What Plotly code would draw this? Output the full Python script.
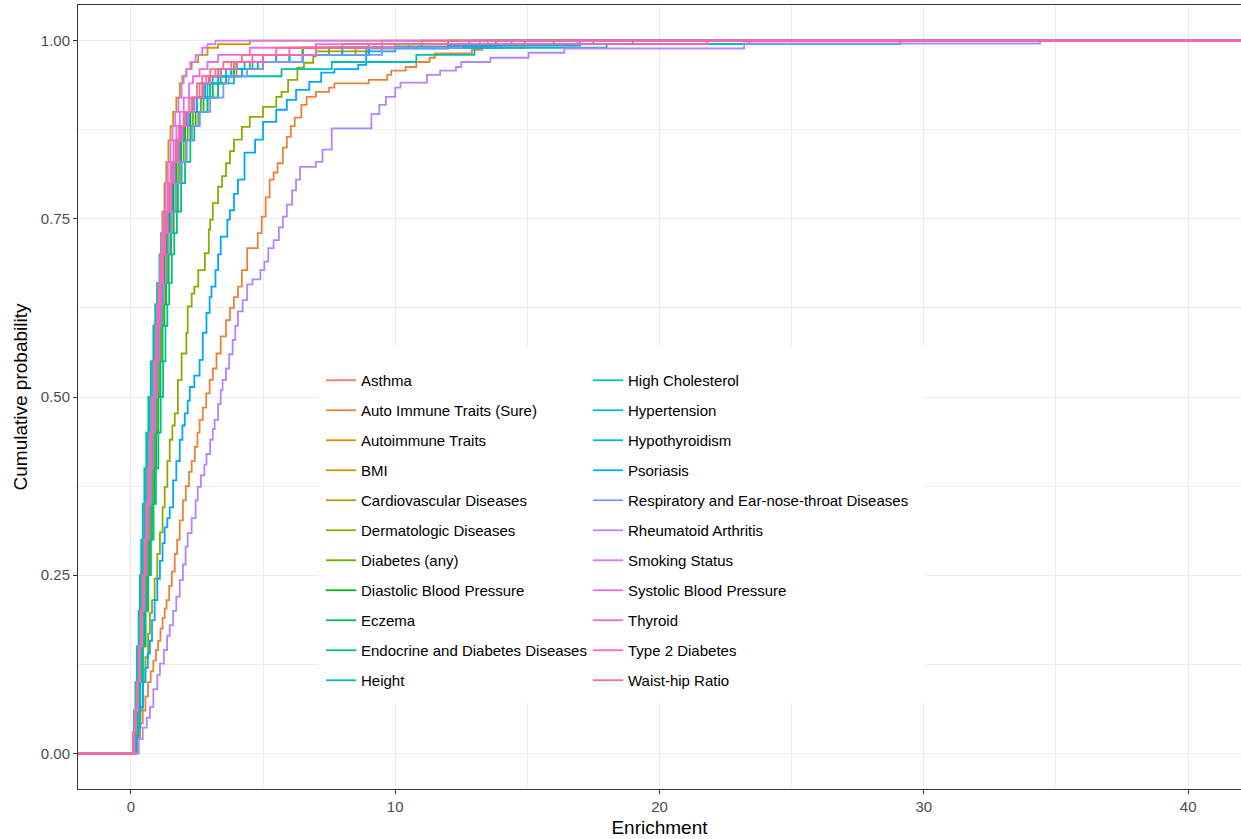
import math
import plotly.graph_objects as go

# ---------------- data ----------------
SERIES = [
    "Asthma", "Auto Immune Traits (Sure)", "Autoimmune Traits", "BMI",
    "Cardiovascular Diseases", "Dermatologic Diseases", "Diabetes (any)",
    "Diastolic Blood Pressure", "Eczema", "Endocrine and Diabetes Diseases",
    "Height", "High Cholesterol", "Hypertension", "Hypothyroidism", "Psoriasis",
    "Respiratory and Ear-nose-throat Diseases", "Rheumatoid Arthritis",
    "Smoking Status", "Systolic Blood Pressure", "Thyroid", "Type 2 Diabetes",
    "Waist-hip Ratio",
]

# cumulative-probability levels shared by the tightly clustered series
PROB = [0.0, 0.03, 0.06, 0.1, 0.15, 0.2, 0.25, 0.3, 0.35, 0.4, 0.45, 0.5, 0.55, 0.6,
        0.63, 0.66, 0.7, 0.73, 0.76, 0.8, 0.83, 0.86, 0.88, 0.9, 0.92, 0.94, 0.95,
        0.96, 0.97, 0.98, 0.99, 0.995, 1.0]

# enrichment reached at each PROB level (clustered series)
asthma_x = [0.07, 0.13, 0.18, 0.25, 0.33, 0.41, 0.49, 0.57, 0.64, 0.72, 0.8, 0.88, 0.96, 1.04, 1.1, 1.17,
            1.26, 1.34, 1.43, 1.58, 1.72, 1.9, 2.05, 2.25, 2.5, 2.8, 3.0, 3.4, 4.0, 5.0, 6.5, 8.0, 9.5]
autoimmune_x = [0.1, 0.17, 0.24, 0.32, 0.41, 0.5, 0.59, 0.67, 0.75, 0.83, 0.91, 0.99, 1.07, 1.15, 1.22,
                1.3, 1.4, 1.5, 1.6, 1.75, 1.9, 2.1, 2.3, 2.55, 2.9, 3.3, 3.6, 4.0, 5.0, 6.5, 8.5, 10.5, 13.5]
bmi_x = [0.12, 0.22, 0.28, 0.35, 0.42, 0.49, 0.55, 0.61, 0.67, 0.73, 0.79, 0.85, 0.91, 0.97, 1.01, 1.05,
         1.1, 1.14, 1.19, 1.27, 1.34, 1.42, 1.5, 1.6, 1.72, 1.85, 1.95, 2.1, 2.3, 2.55, 2.9, 3.3, 4.5]
cardio_x = [0.06, 0.12, 0.17, 0.24, 0.32, 0.4, 0.48, 0.56, 0.64, 0.72, 0.8, 0.88, 0.96, 1.04, 1.1, 1.16,
            1.24, 1.32, 1.41, 1.55, 1.67, 1.82, 1.95, 2.12, 2.35, 2.7, 2.95, 3.3, 3.9, 5.0, 7.0, 9.5, 13.8]
diabetes_x = [0.08, 0.14, 0.2, 0.28, 0.37, 0.46, 0.55, 0.63, 0.71, 0.79, 0.87, 0.95, 1.03, 1.11, 1.17,
              1.24, 1.33, 1.42, 1.52, 1.68, 1.82, 2.0, 2.15, 2.35, 2.65, 3.0, 3.3, 3.8, 4.5, 5.5, 7.5,
              10.0, 23.4]
diastolic_x = [0.07, 0.13, 0.19, 0.27, 0.35, 0.43, 0.51, 0.59, 0.67, 0.75, 0.83, 0.91, 0.99, 1.07, 1.13,
               1.2, 1.29, 1.37, 1.46, 1.6, 1.73, 1.9, 2.05, 2.25, 2.5, 2.8, 3.0, 3.4, 4.0, 5.0, 6.5, 9.0,
               12.0]
eczema_x = [0.09, 0.16, 0.23, 0.32, 0.42, 0.52, 0.62, 0.71, 0.8, 0.88, 0.96, 1.04, 1.12, 1.2, 1.27, 1.34,
            1.43, 1.52, 1.62, 1.78, 1.92, 2.1, 2.25, 2.45, 2.75, 3.1, 3.4, 3.9, 4.8, 6.0, 8.0, 12.0, 16.0]
endocrine_x = [0.1, 0.18, 0.26, 0.36, 0.46, 0.56, 0.66, 0.76, 0.86, 0.95, 1.04, 1.13, 1.22, 1.31, 1.38,
               1.45, 1.55, 1.64, 1.74, 1.9, 2.05, 2.25, 2.4, 2.6, 2.9, 3.3, 3.6, 4.2, 5.0, 6.5, 9.0, 13.8,
               19.0]
height_x = [0.03, 0.08, 0.12, 0.17, 0.23, 0.29, 0.34, 0.39, 0.45, 0.51, 0.58, 0.66, 0.75, 0.85, 0.92, 0.99,
            1.08, 1.16, 1.25, 1.4, 1.55, 1.75, 1.9, 2.1, 2.5, 3.0, 3.9, 5.7, 7.6, 10.8, 13.0, 18.0, 29.1]
cholesterol_x = [0.04, 0.09, 0.13, 0.19, 0.25, 0.31, 0.37, 0.43, 0.5, 0.57, 0.64, 0.72, 0.8, 0.88, 0.95,
                 1.02, 1.1, 1.18, 1.27, 1.42, 1.56, 1.72, 1.85, 2.0, 2.3, 2.8, 3.3, 4.2, 5.0, 6.5, 9.0,
                 11.0, 12.8]
hypertension_x = [0.05, 0.1, 0.15, 0.21, 0.28, 0.35, 0.42, 0.49, 0.56, 0.63, 0.7, 0.78, 0.86, 0.95, 1.01,
                  1.08, 1.17, 1.26, 1.35, 1.5, 1.62, 1.78, 1.92, 2.1, 2.4, 2.8, 3.1, 3.6, 4.3, 5.5, 8.0,
                  12.0, 17.5]
hypothyroid_x = [0.06, 0.11, 0.16, 0.23, 0.3, 0.37, 0.44, 0.51, 0.58, 0.66, 0.74, 0.82, 0.9, 0.99, 1.06,
                 1.13, 1.22, 1.3, 1.4, 1.55, 1.68, 1.85, 2.0, 2.2, 2.5, 2.9, 3.3, 3.8, 4.6, 6.0, 9.0, 14.0,
                 29.1]
respiratory_x = [0.08, 0.14, 0.2, 0.28, 0.36, 0.44, 0.52, 0.6, 0.68, 0.76, 0.84, 0.92, 1.0, 1.08, 1.15,
                 1.22, 1.32, 1.42, 1.53, 1.7, 1.88, 2.1, 2.3, 2.6, 3.0, 3.5, 3.7, 4.4, 5.0, 6.5, 9.5, 12.5,
                 13.2]
smoking_x = [0.05, 0.1, 0.15, 0.22, 0.3, 0.38, 0.46, 0.54, 0.61, 0.68, 0.75, 0.82, 0.89, 0.96, 1.0, 1.05,
             1.11, 1.17, 1.23, 1.32, 1.4, 1.5, 1.58, 1.68, 1.8, 1.92, 2.0, 2.1, 2.25, 2.45, 2.7, 2.9, 3.2]
systolic_x = [0.05, 0.1, 0.16, 0.23, 0.31, 0.39, 0.47, 0.55, 0.62, 0.69, 0.76, 0.83, 0.9, 0.97, 1.02,
              1.08, 1.15, 1.22, 1.3, 1.4, 1.5, 1.62, 1.72, 1.85, 2.0, 2.2, 2.35, 2.6, 2.9, 3.3, 4.5, 7.0,
              14.4]
thyroid_x = [0.06, 0.11, 0.17, 0.24, 0.32, 0.4, 0.48, 0.56, 0.63, 0.7, 0.78, 0.86, 0.94, 1.02, 1.08, 1.14,
             1.22, 1.3, 1.39, 1.52, 1.64, 1.8, 1.95, 2.15, 2.4, 2.75, 3.0, 3.4, 4.0, 5.0, 7.0, 10.0, 16.9]
t2d_x = [0.05, 0.1, 0.16, 0.23, 0.31, 0.39, 0.46, 0.54, 0.61, 0.68, 0.75, 0.83, 0.91, 0.99, 1.05, 1.11,
         1.19, 1.27, 1.36, 1.48, 1.6, 1.75, 1.88, 2.05, 2.3, 2.6, 2.85, 3.2, 3.8, 4.6, 6.0, 9.0, 21.8]
waisthip_x = [0.05, 0.1, 0.15, 0.22, 0.3, 0.37, 0.44, 0.51, 0.58, 0.65, 0.72, 0.8, 0.88, 0.96, 1.02, 1.08,
              1.16, 1.24, 1.32, 1.44, 1.55, 1.7, 1.82, 2.0, 2.2, 2.5, 2.7, 3.0, 3.5, 4.2, 5.5, 8.0, 11.0]

# series that separate from the cluster: own step points (enrichment, cumulative probability)
autosure_x = [0.12, 0.25, 0.34, 0.45, 0.55, 0.65, 0.75, 0.85, 0.95, 1.03, 1.12, 1.2, 1.28, 1.35, 1.45,
              1.55, 1.66, 1.75, 1.85, 1.97, 2.08, 2.2, 2.3, 2.42, 2.52, 2.6, 2.72, 2.85, 2.98, 3.1,
              3.24, 3.4, 3.6, 3.75, 3.9, 4.05, 4.2, 4.4, 4.8, 4.95, 5.1, 5.25, 5.4, 5.55, 5.75, 5.9,
              6.05, 6.2, 6.45, 6.65, 7.0, 7.5, 7.7, 9.0, 9.7, 9.85, 10.4, 10.8, 11.3, 11.5, 12.9,
              13.3, 14.9]
autosure_p = [0.0, 0.02, 0.042, 0.06, 0.08, 0.1, 0.115, 0.13, 0.145, 0.158, 0.175, 0.19, 0.203, 0.215,
              0.235, 0.255, 0.28, 0.3, 0.327, 0.355, 0.375, 0.395, 0.41, 0.43, 0.45, 0.468, 0.485,
              0.505, 0.524, 0.54, 0.561, 0.585, 0.608, 0.625, 0.64, 0.655, 0.678, 0.709, 0.73, 0.753,
              0.78, 0.805, 0.815, 0.828, 0.85, 0.865, 0.88, 0.892, 0.91, 0.921, 0.928, 0.934, 0.94,
              0.945, 0.952, 0.958, 0.963, 0.97, 0.976, 0.982, 0.987, 0.99, 1.0]
derm_x = [0.12, 0.27, 0.35, 0.45, 0.55, 0.65, 0.72, 0.8, 0.9, 1.0, 1.1, 1.2, 1.28, 1.38, 1.47, 1.57,
          1.66, 1.78, 1.92, 2.1, 2.15, 2.3, 2.4, 2.55, 2.8, 2.95, 3.0, 3.1, 3.3, 3.45, 3.6, 3.75, 3.9,
          4.2, 4.5, 5.0, 5.5, 5.7, 5.95, 6.3, 6.55, 6.9, 7.0, 8.9, 10.0, 13.8]
derm_p = [0.0, 0.025, 0.06, 0.1, 0.135, 0.168, 0.197, 0.215, 0.245, 0.28, 0.31, 0.345, 0.374, 0.41,
          0.44, 0.46, 0.477, 0.524, 0.561, 0.59, 0.627, 0.645, 0.655, 0.678, 0.702, 0.735, 0.749,
          0.772, 0.795, 0.81, 0.828, 0.845, 0.861, 0.879, 0.893, 0.907, 0.921, 0.928, 0.945, 0.962,
          0.969, 0.978, 0.985, 0.989, 0.992, 1.0]
psoriasis_x = [0.1, 0.2, 0.27, 0.36, 0.46, 0.55, 0.64, 0.72, 0.8, 0.9, 1.0, 1.1, 1.2, 1.28, 1.38, 1.47,
               1.6, 1.72, 1.85, 1.95, 2.04, 2.15, 2.23, 2.4, 2.6, 2.72, 2.86, 2.98, 3.05, 3.2, 3.3,
               3.4, 3.65, 3.75, 3.9, 4.05, 4.3, 4.7, 5.0, 5.5, 5.9, 6.25, 6.75, 7.2, 7.7, 8.6, 8.9,
               10.0, 12.0, 17.0]
psoriasis_p = [0.0, 0.02, 0.036, 0.065, 0.1, 0.12, 0.14, 0.158, 0.187, 0.215, 0.245, 0.27, 0.295,
               0.317, 0.33, 0.345, 0.383, 0.41, 0.44, 0.46, 0.477, 0.495, 0.514, 0.53, 0.552, 0.59,
               0.618, 0.64, 0.655, 0.678, 0.7, 0.725, 0.749, 0.762, 0.785, 0.805, 0.843, 0.861,
               0.886, 0.903, 0.917, 0.931, 0.942, 0.955, 0.96, 0.966, 0.985, 0.989, 0.993, 1.0]
ra_x = [0.15, 0.3, 0.45, 0.6, 0.72, 0.85, 1.0, 1.1, 1.25, 1.37, 1.47, 1.6, 1.72, 1.85, 1.97, 2.07,
        2.15, 2.3, 2.45, 2.53, 2.65, 2.78, 2.86, 3.0, 3.1, 3.17, 3.3, 3.4, 3.47, 3.6, 3.72, 3.85,
        3.95, 4.05, 4.23, 4.4, 4.6, 4.9, 5.05, 5.2, 5.4, 5.6, 5.75, 5.9, 6.1, 6.25, 6.4, 7.0, 7.25,
        7.6, 9.1, 9.4, 9.65, 10.0, 10.2, 11.2, 11.7, 12.3, 12.5, 13.6, 15.05, 16.4, 23.2, 34.4]
ra_p = [0.0, 0.02, 0.036, 0.05, 0.065, 0.09, 0.11, 0.126, 0.145, 0.165, 0.18, 0.2, 0.22, 0.243,
        0.265, 0.29, 0.309, 0.33, 0.355, 0.374, 0.39, 0.405, 0.42, 0.44, 0.455, 0.468, 0.49, 0.51,
        0.524, 0.54, 0.56, 0.58, 0.6, 0.62, 0.636, 0.658, 0.665, 0.678, 0.69, 0.709, 0.72, 0.738,
        0.753, 0.77, 0.79, 0.805, 0.823, 0.83, 0.847, 0.877, 0.897, 0.91, 0.921, 0.934, 0.941,
        0.952, 0.958, 0.963, 0.97, 0.976, 0.983, 0.989, 0.996, 1.0]

X_TICKS = [0, 10, 20, 30, 40]
Y_TICKS = [0.0, 0.25, 0.5, 0.75, 1.0]
Y_TICK_TEXT = ["0.00", "0.25", "0.50", "0.75", "1.00"]

series_data = {
    "Asthma": (asthma_x, PROB),
    "Auto Immune Traits (Sure)": (autosure_x, autosure_p),
    "Autoimmune Traits": (autoimmune_x, PROB),
    "BMI": (bmi_x, PROB),
    "Cardiovascular Diseases": (cardio_x, PROB),
    "Dermatologic Diseases": (derm_x, derm_p),
    "Diabetes (any)": (diabetes_x, PROB),
    "Diastolic Blood Pressure": (diastolic_x, PROB),
    "Eczema": (eczema_x, PROB),
    "Endocrine and Diabetes Diseases": (endocrine_x, PROB),
    "Height": (height_x, PROB),
    "High Cholesterol": (cholesterol_x, PROB),
    "Hypertension": (hypertension_x, PROB),
    "Hypothyroidism": (hypothyroid_x, PROB),
    "Psoriasis": (psoriasis_x, psoriasis_p),
    "Respiratory and Ear-nose-throat Diseases": (respiratory_x, PROB),
    "Rheumatoid Arthritis": (ra_x, ra_p),
    "Smoking Status": (smoking_x, PROB),
    "Systolic Blood Pressure": (systolic_x, PROB),
    "Thyroid": (thyroid_x, PROB),
    "Type 2 Diabetes": (t2d_x, PROB),
    "Waist-hip Ratio": (waisthip_x, PROB),
}


# ---------------- styling helpers ----------------
def hcl_hex(h, c=100.0, l=65.0):
    Xn, Yn, Zn = 95.047, 100.0, 108.883
    hr = math.radians(h)
    U, V = c * math.cos(hr), c * math.sin(hr)
    Y = Yn * ((l + 16) / 116) ** 3 if l > 8 else Yn * l / 903.3
    den = Xn + 15 * Yn + 3 * Zn
    un, vn = 4 * Xn / den, 9 * Yn / den
    up = U / (13 * l) + un
    vp = V / (13 * l) + vn
    X = 9.0 * Y * up / (4 * vp)
    Z = -X / 3 - 5 * Y + 3 * Y / vp
    X, Y, Z = X / 100, Y / 100, Z / 100
    r = 3.240479 * X - 1.537150 * Y - 0.498535 * Z
    g = -0.969256 * X + 1.875992 * Y + 0.041556 * Z
    b = 0.055648 * X - 0.204043 * Y + 1.057311 * Z

    def gam(v):
        v = 1.055 * v ** (1 / 2.4) - 0.055 if v > 0.00304 else 12.92 * v
        return int(round(max(0, min(1, v)) * 255))
    return "#%02X%02X%02X" % (gam(r), gam(g), gam(b))


n = len(SERIES)
COLORS = [hcl_hex(15 + i * 360.0 / n) for i in range(n)]

FONT = "Liberation Sans, Arial, Helvetica, sans-serif"
W, H = 1241, 839
ML, MR, MT, MB = 78, 0, 5, 50
PW, PH = W - ML - MR, H - MT - MB


def px_x(px):
    return (px - ML) / PW


def px_y(py):
    return (H - MB - py) / PH


fig = go.Figure()
for i, name in enumerate(SERIES):
    xs, ps = series_data[name]
    fig.add_trace(go.Scatter(
        x=[-5] + list(xs) + [50],
        y=[0] + list(ps) + [1],
        mode="lines",
        line=dict(color=COLORS[i], width=1.8, shape="hv"),
        name=name,
        legend="legend" if i < 11 else "legend2",
        legendgroup=name,
        showlegend=True,
    ))

axis_common = dict(
    showline=True, linecolor="#333333", linewidth=1, mirror=True,
    ticks="outside", ticklen=4, tickwidth=1, tickcolor="#333333",
    gridcolor="#EBEBEB", gridwidth=1.4, zeroline=False,
    tickfont=dict(family=FONT, size=15, color="#4D4D4D"),
)

fig.update_layout(
    width=W, height=H,
    margin=dict(l=ML, r=MR, t=MT, b=MB),
    paper_bgcolor="white", plot_bgcolor="white",
    font=dict(family=FONT, color="black"),
    xaxis=dict(range=[-2, 42], tickvals=X_TICKS, ticktext=[str(v) for v in X_TICKS],
               minor=dict(dtick=5, tick0=0, showgrid=True, gridcolor="#EBEBEB", gridwidth=0.8,
                          ticks=""),
               title=dict(text="Enrichment", font=dict(family=FONT, size=19), standoff=6),
               **axis_common),
    yaxis=dict(range=[-0.05, 1.05], tickvals=Y_TICKS, ticktext=Y_TICK_TEXT,
               minor=dict(dtick=0.125, tick0=0, showgrid=True, gridcolor="#EBEBEB", gridwidth=0.8,
                          ticks=""),
               title=dict(text="Cumulative probability", font=dict(family=FONT, size=19), standoff=8),
               **axis_common),
    legend=dict(x=px_x(321), y=px_y(364), xanchor="left", yanchor="top",
                bgcolor="rgba(0,0,0,0)", borderwidth=0, tracegroupgap=7.5,
                font=dict(family=FONT, size=15, color="black"), itemwidth=30),
    legend2=dict(x=px_x(588), y=px_y(364), xanchor="left", yanchor="top",
                 bgcolor="rgba(0,0,0,0)", borderwidth=0, tracegroupgap=7.5,
                 font=dict(family=FONT, size=15, color="black"), itemwidth=30),
    shapes=[dict(type="rect", xref="paper", yref="paper", layer="above",
                 x0=px_x(318), x1=px_x(925), y0=px_y(703), y1=px_y(347),
                 fillcolor="white", line=dict(width=0))],
)

fig.write_html("out.html")
